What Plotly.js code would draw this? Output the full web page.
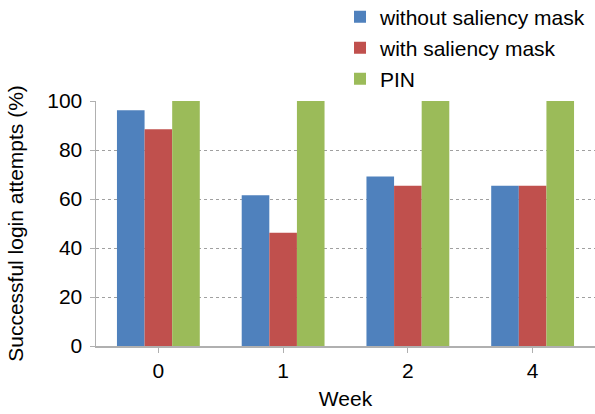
<!DOCTYPE html>
<html>
<head>
<meta charset="utf-8">
<script src="https://cdn.plot.ly/plotly-3.0.1.min.js"></script>
<style>html,body{margin:0;padding:0;background:#fff;}#chart{width:595px;height:414px;}</style>
</head>
<body>
<div id="chart"></div>
<script>
const weeks = ["0", "1", "2", "4"];
const seriesNames = ["without saliency mask", "with saliency mask", "PIN"];
const withoutMask = [96.2, 61.5, 69.2, 65.4];
const withMask = [88.5, 46.2, 65.4, 65.4];
const pin = [100, 100, 100, 100];
const yTicks = [0, 20, 40, 60, 80, 100];
const colors = ["#4F81BD", "#C0504D", "#9BBB59"];

const font = {family: "Liberation Sans, Arial, sans-serif", size: 21, color: "#000"};
const values = [withoutMask, withMask, pin];
const legendIds = ["legend", "legend2", "legend3"];
const traces = values.map((v, i) => ({
  type: "bar", x: weeks, y: v, name: seriesNames[i],
  marker: {color: colors[i], line: {width: 0}},
  legend: legendIds[i], hoverinfo: "skip"
}));

const legendBase = {x: 0.489, xanchor: "left", yanchor: "middle", bgcolor: "rgba(0,0,0,0)",
  font: font, itemwidth: 30, borderwidth: 0};
const layout = {
  width: 595, height: 414,
  margin: {l: 96, r: 0, t: 101, b: 68, autoexpand: false},
  paper_bgcolor: "#fff", plot_bgcolor: "#fff",
  font: font,
  barmode: "group", bargap: 0.336, bargroupgap: 0,
  showlegend: true,
  legend: Object.assign({}, legendBase, {y: 1 + (101 - 17) / 245}),
  legend2: Object.assign({}, legendBase, {y: 1 + (101 - 48) / 245}),
  legend3: Object.assign({}, legendBase, {y: 1 + (101 - 79) / 245}),
  xaxis: {
    type: "category", range: [-0.5, 3.5], automargin: false,
    showline: true, linecolor: "#b0b0b0", linewidth: 1.5,
    ticks: "outside", ticklen: 5, tickcolor: "#b0b0b0", tickwidth: 1,
    showgrid: false, zeroline: false,
    tickfont: font,
    title: {text: "Week", font: font, standoff: 10}
  },
  yaxis: {
    range: [0, 100], tickvals: yTicks, ticktext: yTicks.map(String), automargin: false,
    showline: true, linecolor: "#b0b0b0", linewidth: 1.5,
    ticks: "outside", ticklen: 5, tickcolor: "#b0b0b0", tickwidth: 1,
    ticklabelstandoff: 3,
    showgrid: true, gridcolor: "#a0a0a0", griddash: "3px,3px", gridwidth: 1,
    zeroline: false,
    tickfont: font,
    title: {text: "Successful login attempts (%)", font: font, standoff: 18}
  }
};
Plotly.newPlot("chart", traces, layout, {displayModeBar: false, staticPlot: true});
</script>
</body>
</html>
